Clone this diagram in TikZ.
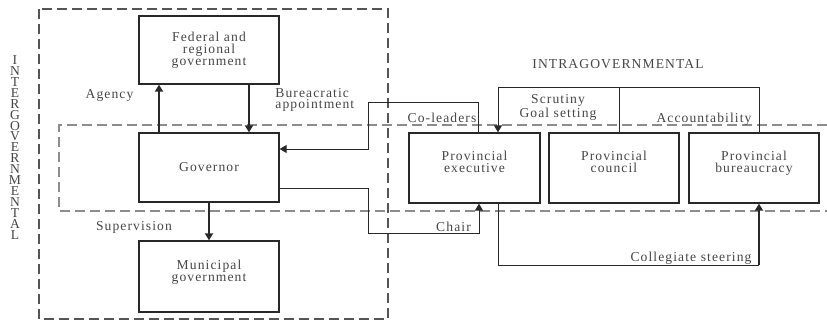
\documentclass[tikz,border=0pt]{standalone}
\usepackage{fontspec}
\newfontfamily\diagfont[LetterSpace=8]{Liberation Serif}
\usetikzlibrary{arrows.meta,positioning}
\definecolor{inkgray}{RGB}{40,40,40}
\definecolor{textgray}{RGB}{70,70,70}
\definecolor{outergray}{RGB}{85,85,85}
\definecolor{innergray}{RGB}{140,140,140}

\tikzset{
  govbox/.style={draw=inkgray, line width=0.65pt, minimum width=70pt,
    minimum height=34.5pt, align=center, text=textgray,
    font=\diagfont\fontsize{6.8pt}{5.9pt}\selectfont},
  lbl/.style={text=textgray, inner sep=0pt, align=center,
    font=\diagfont\fontsize{6.8pt}{5.9pt}\selectfont},
  link/.style={draw=inkgray, line width=0.5pt},
  arr/.style={draw=inkgray, line width=0.9pt, -{Triangle[length=3.5pt,width=4pt]}},
  thinarr/.style={link, -{Triangle[length=3.5pt,width=4pt]}},
  zone/.style={line width=0.6pt, dash pattern=on 5pt off 2.5pt}
}

\begin{document}
\begin{tikzpicture}[x=0.5pt,y=-0.5pt]
  \useasboundingbox (0,0) rectangle (827,322);

  % zones
  \draw[zone, outergray] (39,9) rectangle (388,319);
  \draw[zone, innergray] (827,125) -- (59,125) -- (59,211) -- (827,211);

  % titles
  \foreach \ch [count=\i from 0] in {I,N,T,E,R,G,O,V,E,R,N,M,E,N,T,A,L}
    \node[lbl] (vt\i) at (15,60+10.94*\i) {\ch};
  \node[lbl] (intra) at (618,64) {INTRAGOVERNMENTAL};

  % boxes
  \node[govbox, minimum height=34pt] (fed) at (209,50) {Federal and\\regional\\government};
  \node[govbox] (gov) at (209,167.5) {Governor};
  \node[govbox, minimum height=35.5pt] (mun) at (209,276.5) {Municipal\\government\\\mbox{}};
  \node[govbox, minimum width=65.5pt, minimum height=35pt] (exe) at (474.5,168) {Provincial\\executive\\\mbox{}};
  \node[govbox, minimum width=65pt, minimum height=35pt] (cou) at (614,168) {Provincial\\council\\\mbox{}};
  \node[govbox, minimum width=65pt, minimum height=35pt] (bur) at (754,168) {Provincial\\bureaucracy\\\mbox{}};

  % turning points
  \coordinate (agx) at (159,0);
  \coordinate (bax) at (249,0);
  \coordinate (cotop) at (478,102);
  \coordinate (coleft) at (368,149);
  \coordinate (chout) at (368,188);
  \coordinate (chbot) at (479,233);
  \coordinate (sctop) at (619,87);
  \coordinate (exx) at (498,0);
  \coordinate (cgbot) at (759,265);

  % intergovernmental links
  \draw[arr] (gov.north -| agx) -- (fed.south -| agx);
  \draw[arr] (fed.south -| bax) -- (gov.north -| bax);
  \draw[arr] (gov.south) -- (mun.north);
  \node[lbl] (agency) at (109.5,95) {Agency};
  \node[lbl, anchor=west, align=left] (bureau) at (275,100) {Bureacratic\\appointment};
  \node[lbl] (superv) at (134,227) {Supervision};

  % crossing links
  \draw[thinarr] (exe.north -| cotop) -- (cotop) -| (coleft) -- (gov.east |- coleft);
  \draw[thinarr] (gov.east |- chout) -- (chout) |- (chbot) -- (exe.south -| chbot);
  \node[lbl] (coleaders) at (442,118) {Co-leaders};
  \node[lbl] (chair) at (453.5,227) {Chair};

  % intragovernmental links
  \draw[thinarr] (cou.north -| sctop) -- (sctop) -| (exe.north -| exx);
  \draw[link] (sctop) -| (bur.north -| cgbot);
  \draw[link] (exe.south -| exx) |- (cgbot);
  \draw[arr] (cgbot) -- (bur.south -| cgbot);
  \node[lbl] (scrutiny) at (558,107.5) {Scrutiny\\Goal setting};
  \node[lbl] (account) at (704,119) {Accountability};
  \node[lbl] (colleg) at (691,258) {Collegiate steering};
\end{tikzpicture}
\end{document}
